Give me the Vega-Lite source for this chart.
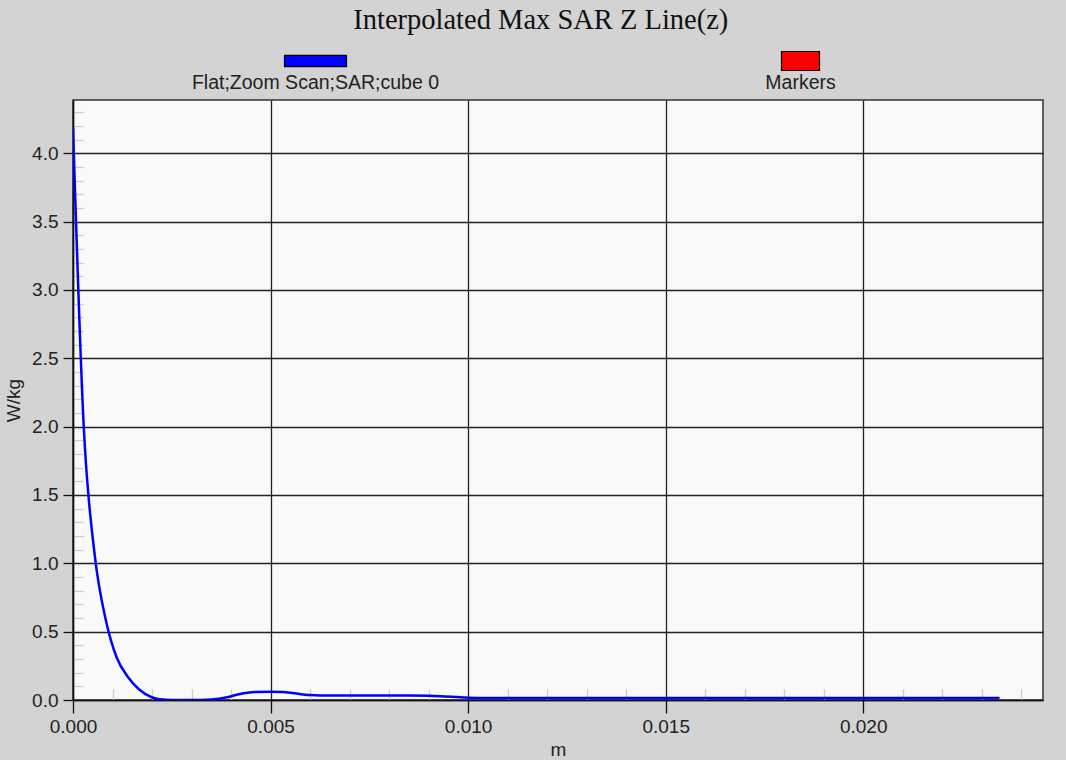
{
  "$schema": "https://vega.github.io/schema/vega-lite/v6.json",
  "autosize": {"type": "pad"},
  "padding": {"left": 3, "top": 5, "right": 23, "bottom": 2},
  "background": "#d3d3d3",
  "title": {
    "text": "Interpolated Max SAR Z Line(z)",
    "font": "Liberation Serif",
    "fontSize": 28.5,
    "fontWeight": "normal",
    "color": "#111",
    "anchor": "middle",
    "dx": 17,
    "offset": 8
  },
  "config": {
    "font": "Liberation Sans",
    "axis": {"labelFont": "Liberation Sans", "titleFont": "Liberation Sans", "labelColor": "#222", "titleColor": "#222", "labelFontSize": 19, "titleFontSize": 19, "titleFontWeight": "normal"}
  },
  "spacing": 6,
  "vconcat": [
    {
      "width": 970,
      "height": 38,
      "view": {"stroke": null, "fill": null},
      "data": {"values": [
        {"series": "Flat;Zoom Scan;SAR;cube 0", "color": "blue"},
        {"series": "Markers", "color": "red"}
      ]},
      "encoding": {
        "x": {"field": "series", "type": "nominal", "scale": {"type": "point", "padding": 0.5}, "axis": null}
      },
      "layer": [
        {
          "transform": [{"filter": "datum.series == 'Flat;Zoom Scan;SAR;cube 0'"}],
          "mark": {"type": "point", "shape": "M-1,-0.18H1V0.18H-1Z", "size": 3844, "filled": true, "fill": "#0000ff", "stroke": "#000", "strokeWidth": 1.2, "opacity": 1}
        },
        {
          "transform": [{"filter": "datum.series == 'Markers'"}],
          "mark": {"type": "point", "shape": "M-1,-0.5H1V0.5H-1Z", "size": 1444, "filled": true, "fill": "#ff0000", "stroke": "#000", "strokeWidth": 1.2, "opacity": 1}
        },
        {
          "mark": {"type": "text", "dy": 22, "font": "Liberation Sans", "fontSize": 19.5, "color": "#222"},
          "encoding": {"text": {"field": "series"}}
        }
      ]
    },
    {
      "width": 970,
      "height": 600,
      "view": {"fill": "#f9f9f9", "stroke": "#333", "strokeWidth": 1.5},
      "data": {"values": [
        {"z": 0, "sar": 4.19},
        {"z": 0.00027, "sar": 2.01},
        {"z": 0.00055, "sar": 1.06},
        {"z": 0.00083, "sar": 0.585},
        {"z": 0.0011, "sar": 0.315},
        {"z": 0.0014, "sar": 0.165},
        {"z": 0.00169, "sar": 0.073},
        {"z": 0.00199, "sar": 0.02},
        {"z": 0.0022, "sar": 0.005},
        {"z": 0.0025, "sar": 0.0},
        {"z": 0.003, "sar": 0.0},
        {"z": 0.0035, "sar": 0.004},
        {"z": 0.0039, "sar": 0.02},
        {"z": 0.0042, "sar": 0.042},
        {"z": 0.0046, "sar": 0.058},
        {"z": 0.005, "sar": 0.06},
        {"z": 0.0053, "sar": 0.058},
        {"z": 0.0056, "sar": 0.049},
        {"z": 0.006, "sar": 0.037},
        {"z": 0.0065, "sar": 0.033},
        {"z": 0.0075, "sar": 0.033},
        {"z": 0.0085, "sar": 0.033},
        {"z": 0.009, "sar": 0.031},
        {"z": 0.0094, "sar": 0.026},
        {"z": 0.0098, "sar": 0.02},
        {"z": 0.0103, "sar": 0.015},
        {"z": 0.012, "sar": 0.015},
        {"z": 0.015, "sar": 0.015},
        {"z": 0.018, "sar": 0.015},
        {"z": 0.021, "sar": 0.015},
        {"z": 0.02345, "sar": 0.015}
      ]},
      "mark": {"type": "line", "color": "#0000ff", "strokeWidth": 2.5, "interpolate": "monotone", "clip": true},
      "encoding": {
        "x": {
          "field": "z", "type": "quantitative", "title": "m",
          "scale": {"domain": [0, 0.02455], "nice": false, "zero": false},
          "axis": {
            "values": [0,0.001,0.002,0.003,0.004,0.005,0.006,0.007,0.008,0.009,0.01,0.011,0.012,0.013,0.014,0.015,0.016,0.017,0.018,0.019,0.02,0.021,0.022,0.023,0.024],
            "labelExpr": "abs(datum.value*200 - round(datum.value*200)) < 0.001 ? format(datum.value, '.3f') : ''",
            "labelOverlap": false,
            "labelFlush": false,
            "labelPadding": 4,
            "grid": true,
            "gridColor": {"condition": {"test": "abs(datum.value*200 - round(datum.value*200)) < 0.001", "value": "#222"}, "value": "#f9f9f9"},
            "gridOpacity": {"condition": {"test": "abs(datum.value*200 - round(datum.value*200)) < 0.001", "value": 1}, "value": 0},
            "gridWidth": 1.3,
            "tickSize": {"condition": {"test": "abs(datum.value*200 - round(datum.value*200)) < 0.001", "value": 13}, "value": -11},
            "tickColor": {"condition": {"test": "abs(datum.value*200 - round(datum.value*200)) < 0.001", "value": "#111"}, "value": "#cccccc"},
            "tickWidth": 1.3,
            "domainColor": "#111",
            "domainWidth": 1.5,
            "titlePadding": 4
          }
        },
        "y": {
          "field": "sar", "type": "quantitative", "title": "W/kg",
          "scale": {"domain": [0, 4.39], "nice": false, "zero": true},
          "axis": {
            "values": [0,0.1,0.2,0.3,0.4,0.5,0.6,0.7,0.8,0.9,1,1.1,1.2,1.3,1.4,1.5,1.6,1.7,1.8,1.9,2,2.1,2.2,2.3,2.4,2.5,2.6,2.7,2.8,2.9,3,3.1,3.2,3.3,3.4,3.5,3.6,3.7,3.8,3.9,4,4.1,4.2,4.3],
            "labelExpr": "abs(datum.value*2 - round(datum.value*2)) < 0.001 ? format(datum.value, '.1f') : ''",
            "labelOverlap": false,
            "labelFlush": false,
            "labelPadding": 5,
            "grid": true,
            "gridColor": {"condition": {"test": "abs(datum.value*2 - round(datum.value*2)) < 0.001", "value": "#222"}, "value": "#f9f9f9"},
            "gridOpacity": {"condition": {"test": "abs(datum.value*2 - round(datum.value*2)) < 0.001", "value": 1}, "value": 0},
            "gridWidth": 1.3,
            "tickSize": {"condition": {"test": "abs(datum.value*2 - round(datum.value*2)) < 0.001", "value": 10}, "value": -10},
            "tickColor": {"condition": {"test": "abs(datum.value*2 - round(datum.value*2)) < 0.001", "value": "#111"}, "value": "#cccccc"},
            "tickWidth": 1.3,
            "domainColor": "#111",
            "domainWidth": 1.5,
            "titlePadding": 8
          }
        }
      }
    }
  ]
}
